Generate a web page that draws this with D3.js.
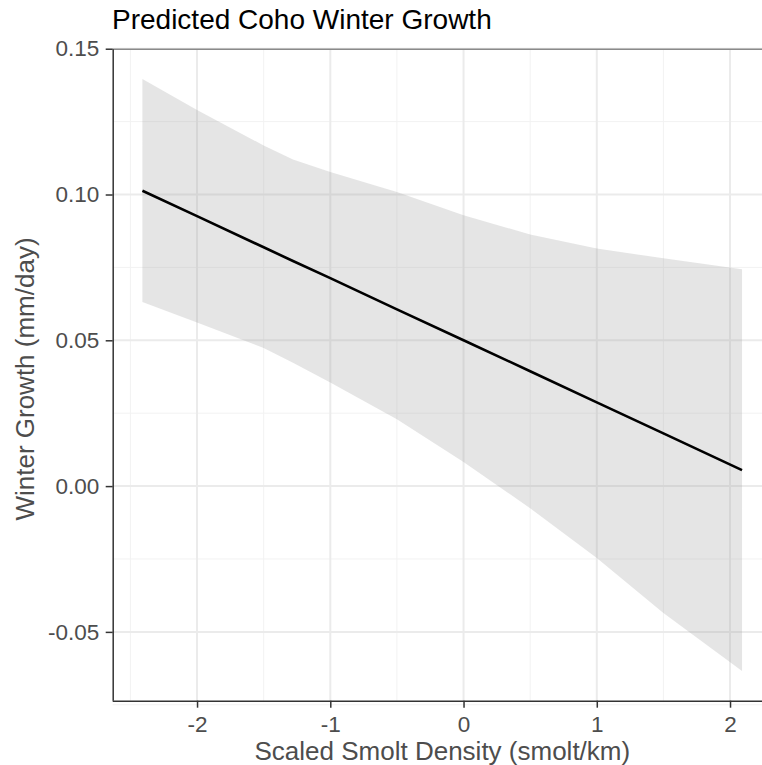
<!DOCTYPE html>
<meta charset="utf-8">
<style>
  body { margin: 0; background: #ffffff; }
  svg { display: block; font-family: "Liberation Sans", Arial, Helvetica, sans-serif; }
  .tick text { fill: #4d4d4d; font-size: 22.5px; }
  .tick line { stroke: #333333; stroke-width: 1.5; }
  .axisTitle { fill: #4d4d4d; font-size: 26px; }
  .title { fill: #000000; font-size: 28px; }
</style>
<body>
<script src="https://cdn.jsdelivr.net/npm/d3@7"></script>
<script>

  // data
  var density = [-2.41, -2, -1.5, -1.28, -1, -0.5, 0, 0.5, 1, 1.5, 2.09];
  var fit     = [0.1013, 0.0926, 0.0819, 0.0772, 0.0713, 0.0606, 0.0500, 0.0394, 0.0287, 0.0181, 0.0055];
  var upper   = [0.1396, 0.1290, 0.1168, 0.1120, 0.1077, 0.1009, 0.0929, 0.0863, 0.0815, 0.0781, 0.0744];
  var lower   = [0.0631, 0.0561, 0.0474, 0.0423, 0.0355, 0.0229, 0.0083, -0.0076, -0.0247, -0.0435, -0.0634];

  var xTicks = [-2, -1, 0, 1, 2];
  var xMinor = [-2.5, -1.5, -0.5, 0.5, 1.5];
  var yTicks = [-0.05, 0, 0.05, 0.10, 0.15];
  var yMinor = [-0.075, -0.025, 0.025, 0.075, 0.125];

  // panel edges (the right edge runs past the picture, as in the original)
  var W = 762, H = 765;
  var plotL = 112.7, plotR = 772, plotT = 49.3, plotB = 700.7;

  var x = d3.scaleLinear().domain([-2.633, 2.315]).range([plotL, plotR]);
  var y = d3.scaleLinear().domain([-0.0736, 0.1498]).range([plotB, plotT]);

  var svg = d3.select("body").append("svg")
    .attr("width", W)
    .attr("height", H);

  var rows = density.map(function (d, i) {
    return { x: d, fit: fit[i], lo: lower[i], hi: upper[i] };
  });

  // grid
  var grid = svg.append("g");
  grid.selectAll(".vminor").data(xMinor).enter().append("line")
    .attr("x1", function (d) { return x(d); }).attr("x2", function (d) { return x(d); })
    .attr("y1", plotT).attr("y2", plotB)
    .attr("stroke", "#f2f2f2").attr("stroke-width", 1);
  grid.selectAll(".hminor").data(yMinor).enter().append("line")
    .attr("y1", function (d) { return y(d); }).attr("y2", function (d) { return y(d); })
    .attr("x1", plotL).attr("x2", plotR)
    .attr("stroke", "#f2f2f2").attr("stroke-width", 1);
  grid.selectAll(".vmajor").data(xTicks).enter().append("line")
    .attr("x1", function (d) { return x(d); }).attr("x2", function (d) { return x(d); })
    .attr("y1", plotT).attr("y2", plotB)
    .attr("stroke", "#ebebeb").attr("stroke-width", 2);
  grid.selectAll(".hmajor").data(yTicks).enter().append("line")
    .attr("y1", function (d) { return y(d); }).attr("y2", function (d) { return y(d); })
    .attr("x1", plotL).attr("x2", plotR)
    .attr("stroke", "#ebebeb").attr("stroke-width", 2);

  // confidence ribbon
  svg.append("path")
    .datum(rows)
    .attr("d", d3.area()
      .x(function (d) { return x(d.x); })
      .y0(function (d) { return y(d.lo); })
      .y1(function (d) { return y(d.hi); }))
    .attr("fill", "#999999")
    .attr("fill-opacity", 0.26);

  // fitted line
  svg.append("path")
    .datum(rows)
    .attr("d", d3.line()
      .x(function (d) { return x(d.x); })
      .y(function (d) { return y(d.fit); }))
    .attr("fill", "none")
    .attr("stroke", "#000000")
    .attr("stroke-width", 2.6);

  // top border
  svg.append("line")
    .attr("x1", plotL).attr("x2", plotR)
    .attr("y1", plotT).attr("y2", plotT)
    .attr("stroke", "#8a8a8a").attr("stroke-width", 1.6);

  // axes
  var xAxis = svg.append("g")
    .attr("transform", "translate(0," + plotB + ")")
    .call(d3.axisBottom(x).tickValues(xTicks).tickSize(7).tickPadding(8)
      .tickFormat(function (d) { return d < 0 ? "-" + Math.abs(d) : d; }));
  var yAxis = svg.append("g")
    .attr("transform", "translate(" + plotL + ",0)")
    .call(d3.axisLeft(y).tickValues(yTicks).tickSize(7).tickPadding(6.5)
      .tickFormat(function (d) { var s = Math.abs(d).toFixed(2); return d < 0 ? "-" + s : s; }));

  [xAxis, yAxis].forEach(function (a) {
    a.attr("font-family", null).attr("font-size", null);
    a.select(".domain").attr("stroke", "#333333").attr("stroke-width", 1.5);
  });
  xAxis.select(".domain").attr("d", "M" + plotL + ",0.5H" + plotR);
  yAxis.select(".domain").attr("d", "M0.5," + plotT + "V" + plotB);

  // titles
  svg.append("text")
    .attr("class", "title")
    .attr("x", 112)
    .attr("y", 28.5)
    .text("Predicted Coho Winter Growth");

  svg.append("text")
    .attr("class", "axisTitle")
    .attr("x", (plotL + plotR) / 2)
    .attr("y", 759.5)
    .attr("text-anchor", "middle")
    .text("Scaled Smolt Density (smolt/km)");

  svg.append("text")
    .attr("class", "axisTitle")
    .attr("transform", "translate(33.5," + ((plotT + plotB) / 2 + 4) + ") rotate(-90)")
    .attr("text-anchor", "middle")
    .text("Winter Growth (mm/day)");

</script>
</body>
